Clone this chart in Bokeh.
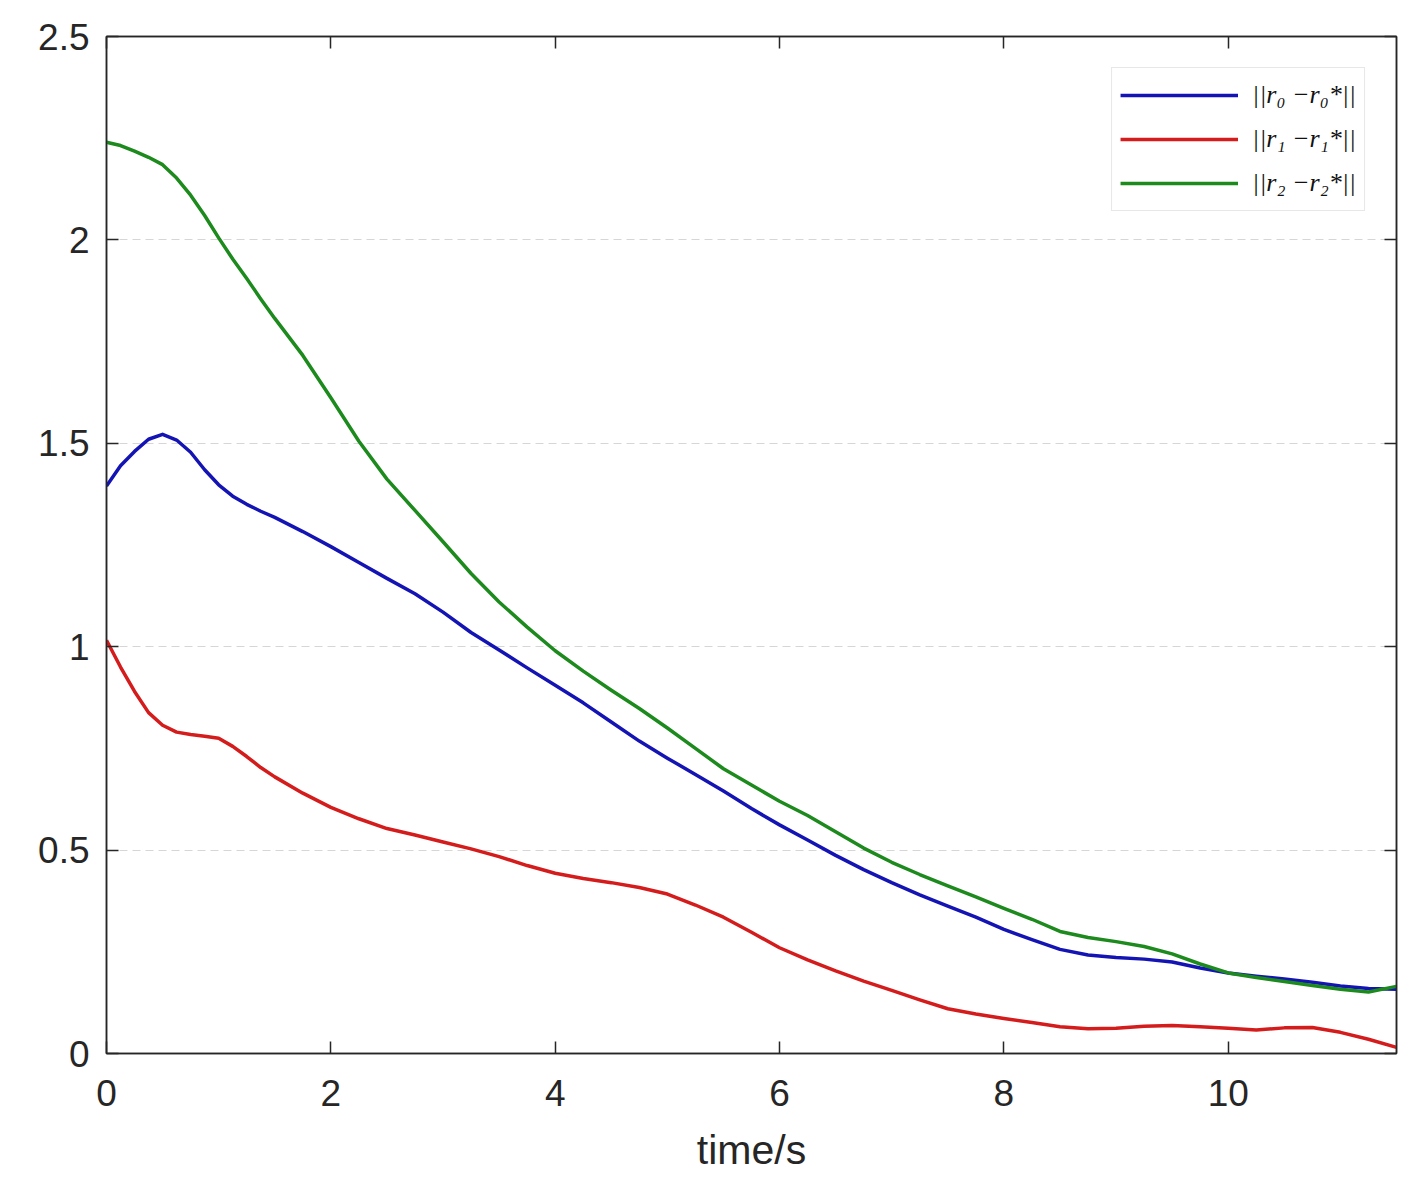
from bokeh.plotting import figure
from bokeh.models import LinearAxis, FixedTicker, Range1d, Legend, LegendItem
from bokeh.embed import file_html
from bokeh.resources import INLINE

# ---- data ----
t = [0, 0.125, 0.25, 0.375, 0.5, 0.625, 0.75, 0.875, 1.0, 1.125, 1.25, 1.375,
     1.5, 1.75, 2.0, 2.25, 2.5, 2.75, 3.0, 3.25,
     3.5, 3.75, 4.0, 4.25, 4.5, 4.75, 5.0, 5.25, 5.5, 5.75, 6.0, 6.25, 6.5, 6.75,
     7.0, 7.25, 7.5, 7.75, 8.0, 8.25, 8.5, 8.75, 9.0, 9.25, 9.5, 9.75, 10.0,
     10.25, 10.5, 10.75, 11.0, 11.25, 11.5]
r0_err = [1.395, 1.445, 1.48, 1.51, 1.522, 1.508, 1.478, 1.435, 1.398, 1.37,
          1.35, 1.333, 1.318, 1.283, 1.246, 1.207,
          1.168, 1.13, 1.085, 1.035, 0.992, 0.948, 0.905, 0.862, 0.815, 0.768,
          0.726, 0.686, 0.645, 0.602, 0.562, 0.525, 0.487, 0.452, 0.42, 0.39,
          0.362, 0.335, 0.305, 0.28, 0.256, 0.242, 0.236, 0.232, 0.225, 0.21,
          0.198, 0.19, 0.183, 0.175, 0.166, 0.16, 0.158]
r1_err = [1.016, 0.95, 0.89, 0.838, 0.807, 0.79, 0.784, 0.78, 0.775, 0.755,
          0.73, 0.703, 0.68, 0.64, 0.605, 0.577,
          0.553, 0.537, 0.52, 0.503, 0.484, 0.462, 0.443, 0.43, 0.42, 0.408,
          0.392, 0.365, 0.335, 0.298, 0.26, 0.23, 0.203, 0.178, 0.155, 0.132,
          0.11, 0.097, 0.086, 0.076, 0.066, 0.061, 0.062, 0.067, 0.069, 0.066,
          0.062, 0.058, 0.063, 0.064, 0.052, 0.035, 0.015]
r2_err = [2.24, 2.232, 2.218, 2.203, 2.185, 2.152, 2.11, 2.06, 2.005, 1.953,
          1.905, 1.855, 1.807, 1.716, 1.612, 1.505,
          1.412, 1.335, 1.258, 1.18, 1.11, 1.048, 0.99, 0.94, 0.893, 0.848, 0.80,
          0.75, 0.70, 0.66, 0.62, 0.585, 0.545, 0.505, 0.47, 0.44, 0.412, 0.385,
          0.357, 0.33, 0.30, 0.285, 0.275, 0.263, 0.245, 0.22, 0.198, 0.187,
          0.177, 0.167, 0.158, 0.151, 0.165]
series_labels = ["||r\u2080 \u2212r\u2080*||", "||r\u2081 \u2212r\u2081*||", "||r\u2082 \u2212r\u2082*||"]
series_colors = ["#1414b4", "#d41c1c", "#1c8a1c"]
x_ticks = [0, 2, 4, 6, 8, 10]
y_ticks = [0, 0.5, 1, 1.5, 2, 2.5]
x_title = "time/s"

TXT = "#262626"
FONT = "Liberation Sans"

p = figure(width=1411, height=1188, output_backend="svg", toolbar_location=None,
           x_range=Range1d(0, 11.5), y_range=Range1d(0, 2.5),
           min_border_left=106, min_border_top=36, min_border_right=15,
           min_border_bottom=135, x_axis_label=x_title)
p.background_fill_color = "white"
p.border_fill_color = "white"
p.outline_line_color = TXT
p.outline_line_width = 1.5

renderers = []
for ys, c in zip([r0_err, r1_err, r2_err], series_colors):
    r = p.line(t, ys, line_color=c, line_width=3.5, line_join="round")
    renderers.append(r)

# main axes
for ax, ticks in ((p.xaxis[0], x_ticks), (p.yaxis[0], y_ticks)):
    ax.ticker = FixedTicker(ticks=ticks)
    ax.major_tick_in = 12
    ax.major_tick_out = 0
    ax.minor_tick_in = 0
    ax.minor_tick_out = 0
    ax.axis_line_color = TXT
    ax.axis_line_width = 1.5
    ax.major_tick_line_color = TXT
    ax.major_tick_line_width = 1.5
    ax.major_label_text_font = FONT
    ax.major_label_text_font_size = "37px"
    ax.major_label_text_color = TXT
p.xaxis[0].major_label_standoff = 26
p.yaxis[0].major_label_standoff = 17
p.xaxis[0].axis_label_text_font = FONT
p.xaxis[0].axis_label_text_font_size = "41px"
p.xaxis[0].axis_label_text_font_style = "normal"
p.xaxis[0].axis_label_text_color = TXT
p.xaxis[0].axis_label_standoff = 18

# mirrored axes (top / right) with inward ticks and no labels
top = LinearAxis(ticker=FixedTicker(ticks=x_ticks))
right = LinearAxis(ticker=FixedTicker(ticks=y_ticks))
for ax in (top, right):
    ax.major_tick_in = 12
    ax.major_tick_out = 0
    ax.minor_tick_in = 0
    ax.minor_tick_out = 0
    ax.axis_line_color = TXT
    ax.axis_line_width = 1.5
    ax.major_tick_line_color = TXT
    ax.major_tick_line_width = 1.5
    ax.major_label_text_font_size = "0px"
    ax.major_label_text_color = None
    ax.major_label_standoff = 0
p.add_layout(top, "above")
p.add_layout(right, "right")

# grid: horizontal dashed only
p.xgrid.visible = False
p.ygrid.ticker = FixedTicker(ticks=y_ticks)
p.ygrid.grid_line_color = "#d6d6d6"
p.ygrid.grid_line_dash = "8 5"
p.ygrid.grid_line_width = 1

legend = Legend(items=[LegendItem(label=l, renderers=[r]) for l, r in zip(series_labels, renderers)],
                location="top_right")
legend.margin = 31
legend.padding = 8
legend.spacing = 6
legend.glyph_width = 118
legend.glyph_height = 38
legend.label_height = 38
legend.label_standoff = 14
legend.label_text_font = "Liberation Serif"
legend.label_text_font_style = "italic"
legend.label_text_font_size = "26px"
legend.label_text_color = "#111111"
legend.border_line_color = "#d0d0d0"
legend.border_line_width = 1
legend.background_fill_color = "white"
legend.background_fill_alpha = 1
p.add_layout(legend, "center")

open("out.html", "w").write(file_html(p, INLINE))
